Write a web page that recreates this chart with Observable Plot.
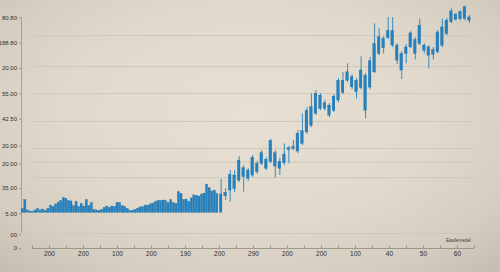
<!DOCTYPE html>
<html>
<head>
<meta charset="utf-8">
<script src="https://cdn.jsdelivr.net/npm/d3@7"></script>
<script src="https://cdn.jsdelivr.net/npm/@observablehq/plot@0.6"></script>
<style>
  html, body { margin: 0; padding: 0; width: 500px; height: 272px; overflow: hidden; }
  body {
    background: radial-gradient(ellipse 72% 78% at 50% 42%, #e6dfd2 0%, #e1dacc 50%, #d5cec0 80%, #c6bfb1 100%);
  }
  #chart svg { display: block; }
</style>
</head>
<body>
<div id="chart"></div>
<script>
// ---- data ----
const volumeBase = 15.4;
const volumeTops = [17.1, 21.0, 16.5, 16.0, 16.0, 16.5, 17.1, 16.5, 16.9, 16.3,
  17.1, 18.6, 18.0, 19.1, 19.9, 20.6, 21.9, 21.5, 20.6, 20.4,
  18.4, 20.2, 18.0, 19.3, 18.2, 21.0, 18.4, 19.7, 16.7, 16.5,
  16.3, 16.7, 17.6, 18.2, 17.6, 18.2, 18.0, 19.7, 19.7, 18.4,
  18.0, 17.1, 16.3, 16.3, 16.7, 17.3, 17.8, 18.0, 18.6, 18.6,
  19.1, 19.5, 20.2, 20.6, 20.6, 20.8, 20.6, 19.7, 21.0, 19.7,
  19.3, 24.5, 23.6, 21.0, 21.2, 20.2, 21.7, 23.0, 22.8, 22.5,
  23.4, 23.8, 27.7, 26.2, 24.7, 25.1, 23.6];

const candleOpen  = [15.5, 22.6, 25.1, 31.6, 29.4, 34.8, 30.2, 31.6, 36.7, 36.7,
  38.4, 37.4, 41.3, 37.5, 36.9, 42.6, 43.1, 42.0, 45.3, 50.3,
  53.2, 58.3, 66.2, 62.9, 61.9, 59.6, 64.1, 72.7, 72.7, 74.2,
  72.7, 69.5, 74.9, 69.7, 76.3, 84.3, 90.8, 91.2, 94.2, 87.9,
  84.3, 84.3, 87.1, 90.3, 88.6, 87.9, 87.1, 83.9, 85.0, 87.9,
  92.9, 98.0, 101.3, 99.4, 99.4, 100.1];
const candleClose = [23.4, 24.1, 31.9, 25.8, 38.1, 30.9, 33.8, 39.3, 33.0, 41.3,
  34.5, 46.6, 35.5, 34.5, 40.7, 43.4, 43.9, 49.7, 50.8, 59.7,
  61.2, 67.0, 60.5, 60.5, 57.6, 65.8, 72.7, 67.4, 76.3, 69.8,
  67.7, 77.1, 59.7, 81.1, 88.6, 91.5, 86.8, 94.2, 87.9, 81.4,
  77.1, 87.1, 93.2, 84.3, 96.5, 85.7, 83.5, 86.0, 93.6, 95.8,
  98.7, 102.7, 99.1, 102.3, 104.5, 98.7];
const candleHigh  = [29.9, 26.0, 33.8, 33.8, 39.8, 35.9, 34.6, 40.3, 37.7, 42.4,
  39.4, 47.2, 42.4, 39.0, 45.3, 44.2, 46.8, 51.1, 58.3, 61.0,
  67.0, 68.4, 67.1, 64.1, 62.8, 66.7, 73.6, 76.2, 80.0, 75.3,
  73.6, 83.0, 75.8, 82.8, 97.3, 95.2, 91.8, 100.1, 100.0, 88.7,
  85.3, 88.3, 93.9, 91.3, 99.4, 88.7, 87.9, 87.0, 94.4, 99.4,
  99.6, 103.8, 101.9, 103.0, 105.0, 100.9];
const candleLow   = [15.5, 20.8, 20.0, 24.2, 28.6, 24.4, 29.0, 30.7, 32.0, 35.9,
  33.8, 36.8, 30.6, 31.6, 35.9, 36.7, 42.4, 41.1, 44.6, 49.4,
  52.4, 57.6, 59.7, 59.7, 56.7, 58.9, 63.2, 66.7, 71.9, 68.8,
  64.8, 68.8, 56.1, 68.8, 75.8, 83.5, 84.3, 90.5, 87.0, 79.7,
  73.2, 80.0, 86.6, 81.7, 87.9, 84.3, 77.8, 81.7, 84.4, 87.0,
  92.2, 97.4, 98.5, 98.7, 98.7, 97.5];

const yTickValues = [100, 89, 78, 67, 56, 44.5, 36.5, 26, 15, 6, 0];
const yTickLabels = ["80.80", "188.80", "20.00", "55.00", "42.50", "20.00", "20.00", "35.00", "5.00", "00", "0"];
const gridValues  = [92.2, 78.8, 67.1, 55.0, 43.3, 37.4, 30.7, 6.5];
const xTickLabels = ["200", "200", "100", "200", "190", "200", "290", "200", "200", "100", "40", "50", "60"];
const noteText = "Eastlemedel";

// ---- layout constants ----
const CANDLE_T0 = 78.0, CANDLE_STEP = 1.764;
const X_TICK0 = 4.3, X_TICK_STEP = 6.641, X_TICK_COUNT = 27;
const BLUE = "#2282c2", BLUE_DARK = "#1b679c";

const bars = volumeTops.map((v, i) => ({i, v}));
const candles = candleOpen.map((o, j) => ({
  t: CANDLE_T0 + j * CANDLE_STEP, open: o, close: candleClose[j], high: candleHigh[j], low: candleLow[j]
}));
const xTickValues = d3.range(X_TICK_COUNT).map(k => X_TICK0 + k * X_TICK_STEP);
const xLabelMap = new Map(xTickValues.map((v, k) => [v, k % 2 === 1 ? xTickLabels[(k - 1) / 2] : ""]));
const yLabelMap = new Map(yTickValues.map((v, i) => [v, yTickLabels[i]]));

const chart = Plot.plot({
  width: 500,
  height: 272,
  marginLeft: 21,
  marginRight: 26,
  marginTop: 1,
  marginBottom: 24,
  x: {domain: [0, 177], axis: null},
  y: {domain: [0, 107], axis: null},
  style: {background: "transparent", fontFamily: "'Liberation Sans', Arial, sans-serif", color: "#2e2e2e"},
  marks: [
    Plot.ruleY(gridValues, {x1: 4.7, x2: 176.2, stroke: "#cfc8ba", strokeWidth: 1}),
    Plot.ruleX([0], {y1: 6.5, y2: 100, stroke: "#9a948a", strokeWidth: 0.8}),
    Plot.axisY({ticks: yTickValues, tickFormat: d => yLabelMap.get(d), tickSize: 2, tickPadding: 2.5,
      fontSize: 6, stroke: "#9a948a", fill: "#2e2e2e", label: null}),
    Plot.ruleY([0], {x1: xTickValues[0], x2: xTickValues[xTickValues.length - 1], stroke: "#8e887e", strokeWidth: 0.8}),
    Plot.ruleX(xTickValues, {y1: 0, y2: 1.2, stroke: "#8e887e", strokeWidth: 0.8}),
    Plot.axisX({ticks: xTickValues, tickFormat: d => xLabelMap.get(d), tickSize: 0, tickPadding: 3,
      fontSize: 6.5, fill: "#2e2e2e", label: null}),
    Plot.rectY(bars, {x1: d => d.i + 0.1, x2: d => d.i + 0.92, y1: volumeBase, y2: "v",
      fill: BLUE, stroke: BLUE_DARK, strokeWidth: 0.3}),
    Plot.ruleX(candles, {x: "t", y1: "low", y2: "high", stroke: BLUE, strokeWidth: 0.9}),
    Plot.rectY(candles, {x1: d => d.t - 0.52, x2: d => d.t + 0.52, y1: "open", y2: "close",
      fill: BLUE, stroke: BLUE_DARK, strokeWidth: 0.3}),
    Plot.text([noteText], {x: 170.7, y: 3.6, text: d => d, fontSize: 4.5, fill: "#3a3a3a"})
  ]
});
document.getElementById("chart").appendChild(chart);
</script>
</body>
</html>
